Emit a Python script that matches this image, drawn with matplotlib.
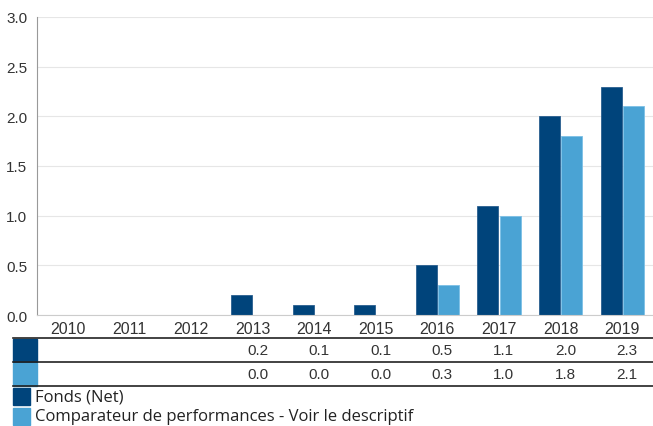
import numpy as np
import matplotlib
matplotlib.use("Agg")
import matplotlib.pyplot as plt
from matplotlib.patches import Rectangle

years = ["2010", "2011", "2012", "2013", "2014", "2015", "2016", "2017", "2018", "2019"]
fund = [None, None, None, 0.2, 0.1, 0.1, 0.5, 1.1, 2.0, 2.3]
bench = [None, None, None, 0.0, 0.0, 0.0, 0.3, 1.0, 1.8, 2.1]
labels = ["Fonds (Net)", "Comparateur de performances - Voir le descriptif"]
colors = ["#00447b", "#4aa3d4"]

W, H = 653, 427
fig = plt.figure(figsize=(W / 100, H / 100), dpi=100)
num_font = "Liberation Sans"
leg_font = "Open Sans"


def fr(x0, y0, x1, y1):
    # pixel box (top-left origin) -> figure fraction rect
    return [x0 / W, 1 - y1 / H, (x1 - x0) / W, (y1 - y0) / H]


# main bar chart
ax = fig.add_axes(fr(37, 18, 653, 316))
x = np.arange(len(years))
bw = 0.34
fv = [np.nan if v is None else v for v in fund]
bv = [np.nan if v is None else v for v in bench]
ax.bar(x - bw / 2 - 0.01, fv, bw, color=colors[0], edgecolor="#2a5f8f", linewidth=0.6)
ax.bar(x + bw / 2 + 0.01, bv, bw, color=colors[1], edgecolor="#7cc0e6", linewidth=0.6)
ax.set_xlim(-0.5, len(years) - 0.5)
ax.set_ylim(0, 3.0)
ax.set_yticks(np.arange(0, 3.01, 0.5))
ax.set_yticklabels([f"{t:.1f}" for t in np.arange(0, 3.01, 0.5)],
                   fontsize=11, color="#333333", family=num_font)
ax.tick_params(axis="y", length=0, pad=7)
ax.set_xticks(x)
ax.set_xticklabels(years, fontsize=11.5, color="#333333", family=num_font)
ax.tick_params(axis="x", length=0, pad=4)
ax.grid(axis="y", color="#e6e6e6", linewidth=0.8)
ax.set_axisbelow(True)
for s in ["top", "right"]:
    ax.spines[s].set_visible(False)
ax.spines["left"].set_color("#999999")
ax.spines["bottom"].set_color("#cccccc")

# data table below the axis
tab = fig.add_axes(fr(37, 339, 653, 387))
tab.set_xlim(-0.5, len(years) - 0.5)
tab.set_ylim(2, 0)
tab.axis("off")
for row, vals in enumerate([fund, bench]):
    for i, v in enumerate(vals):
        if v is not None:
            tab.text(i + 0.25, row + 0.5, f"{v:.1f}", ha="right", va="center",
                     fontsize=11, color="#333333", family=num_font)

# table row lines and swatches
for yy in [339, 363, 387]:
    fig.add_artist(plt.Line2D([13 / W, 1], [1 - yy / H] * 2, color="#222222", linewidth=1.2))
for k, (y0, y1) in enumerate([(340, 363), (364, 387)]):
    fig.add_artist(Rectangle((13 / W, 1 - y1 / H), 24 / W, (y1 - y0) / H,
                             color=colors[k], transform=fig.transFigure))

# legend
for k, (y0, y1) in enumerate([(389, 406), (409, 426)]):
    fig.add_artist(Rectangle((13 / W, 1 - y1 / H), 17 / W, (y1 - y0) / H,
                             color=colors[k], transform=fig.transFigure))
    fig.text(35 / W, 1 - ((y0 + y1) / 2) / H, labels[k], ha="left", va="center",
             fontsize=12, color="#222222", family=leg_font)

fig.savefig("out.png", dpi=100)
